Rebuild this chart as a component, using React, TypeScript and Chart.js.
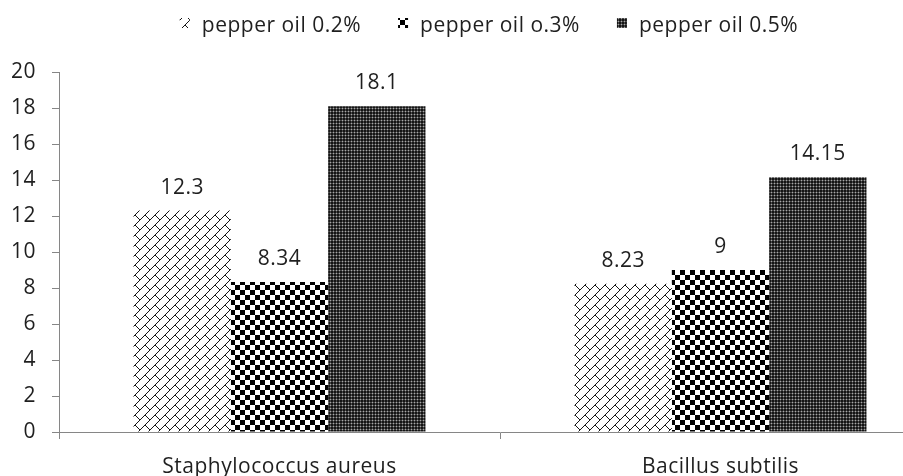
import { useEffect, useRef } from "react";
import { Chart, registerables } from "chart.js";

Chart.register(...registerables);

const categories = ["Staphylococcus aureus", "Bacillus subtilis"];
const seriesNames = ["pepper oil 0.2%", "pepper oil o.3%", "pepper oil 0.5%"];
const oil02 = [12.3, 8.23];
const oil03 = [8.34, 9];
const oil05 = [18.1, 14.15];
const yMin = 0;
const yMax = 20;
const yStep = 2;

const FONT = "'Open Sans', Lato, sans-serif";
const FS = 21;
const TEXT = "#1f1f1f";
const AXIS = "#868686";

function makePattern(kind: string): CanvasPattern | string {
  const c = document.createElement("canvas");
  const size = kind === "dark" ? 3 : 10;
  c.width = size;
  c.height = size;
  const g = c.getContext("2d")!;
  if (kind === "brick") {
    g.fillStyle = "#ffffff";
    g.fillRect(0, 0, size, size);
    g.fillStyle = "#151515";
    for (let y = 0; y < size; y++) {
      g.fillRect(size - 1 - y, y, 1, 1);
      if (y >= 5) g.fillRect(y, y, 1, 1);
    }
  } else if (kind === "checker") {
    g.fillStyle = "#ffffff";
    g.fillRect(0, 0, size, size);
    g.fillStyle = "#000000";
    g.fillRect(0, 0, 5, 5);
    g.fillRect(5, 5, 5, 5);
  } else {
    g.fillStyle = "#151515";
    g.fillRect(0, 0, size, size);
    g.fillStyle = "#484848";
    g.fillRect(0, 0, size, 1);
    g.fillRect(0, 0, 1, size);
    g.fillStyle = "#a8a8a8";
    g.fillRect(0, 0, 1, 1);
  }
  const p = g.createPattern(c, "repeat");
  return p || "#000";
}

export default function App() {
  const ref = useRef<HTMLCanvasElement | null>(null);

  useEffect(() => {
    document.body.style.margin = "0";
    const canvas = ref.current!;
    const fills = [makePattern("brick"), makePattern("checker"), makePattern("dark")];

    const spacingPlugin = {
      id: "spacing",
      beforeLayout(chart: any) {
        chart.ctx.letterSpacing = "0.5px";
      },
      beforeDraw(chart: any) {
        chart.ctx.letterSpacing = "0.5px";
      },
    };

    const valueLabelPlugin = {
      id: "valueLabels",
      afterDatasetsDraw(chart: any) {
        const ctx = chart.ctx;
        ctx.save();
        ctx.font = `${FS}px ${FONT}`;
        ctx.fillStyle = TEXT;
        ctx.textAlign = "center";
        ctx.textBaseline = "alphabetic";
        chart.data.datasets.forEach((ds: any, i: number) => {
          const meta = chart.getDatasetMeta(i);
          meta.data.forEach((el: any, j: number) => {
            ctx.fillText(String(ds.data[j]), el.x, el.y - 17);
          });
        });
        ctx.restore();
      },
    };

    const legendPlugin = {
      id: "customLegend",
      afterDraw(chart: any) {
        const ctx = chart.ctx;
        ctx.save();
        ctx.font = `${FS}px ${FONT}`;
        ctx.textBaseline = "alphabetic";
        ctx.textAlign = "left";
        const box = 10;
        const boxGap = 12;
        const itemGap = 37;
        const widths = chart.data.datasets.map(
          (ds: any) => box + boxGap + ctx.measureText(ds.label).width
        );
        const total = widths.reduce((a: number, b: number) => a + b, 0) + itemGap * (widths.length - 1);
        let x = 489 - total / 2;
        chart.data.datasets.forEach((ds: any, i: number) => {
          ctx.fillStyle = ds.backgroundColor;
          ctx.fillRect(x, 18, box, box);
          ctx.fillStyle = TEXT;
          ctx.fillText(ds.label, x + box + boxGap, 32);
          x += widths[i] + itemGap;
        });
        ctx.restore();
      },
    };

    const chart = new Chart(canvas, {
      type: "bar",
      data: {
        labels: categories,
        datasets: [
          { label: seriesNames[0], data: oil02, backgroundColor: fills[0] as any, borderWidth: 0 },
          { label: seriesNames[1], data: oil03, backgroundColor: fills[1] as any, borderWidth: 0 },
          { label: seriesNames[2], data: oil05, backgroundColor: fills[2] as any, borderWidth: 0 },
        ],
      },
      options: {
        responsive: false,
        animation: false,
        devicePixelRatio: 1,
        layout: { padding: { top: 72, right: 4, left: 0, bottom: 0 } },
        datasets: { bar: { categoryPercentage: 0.662, barPercentage: 1 } },
        plugins: {
          legend: { display: false },
          tooltip: { enabled: false },
        },
        scales: {
          x: {
            grid: {
              offset: true,
              drawOnChartArea: false,
              drawTicks: true,
              tickLength: 7,
              color: AXIS,
            },
            border: { color: AXIS, width: 1 },
            ticks: { font: { family: FONT, size: FS }, color: TEXT, padding: 15 },
            afterFit(scale: any) {
              scale.height = 44;
            },
          },
          y: {
            min: yMin,
            max: yMax,
            ticks: { stepSize: yStep, font: { family: FONT, size: FS }, color: TEXT, padding: 16 },
            grid: {
              drawOnChartArea: false,
              drawTicks: true,
              tickLength: 7,
              color: AXIS,
            },
            border: { color: AXIS, width: 1 },
            afterFit(scale: any) {
              scale.width = 59;
            },
          },
        },
      },
      plugins: [spacingPlugin, valueLabelPlugin, legendPlugin],
    });
    return () => chart.destroy();
  }, []);

  return (
    <div style={{ width: 903, height: 476, overflow: "hidden", background: "#fff" }}>
      <canvas ref={ref} width={945} height={476} style={{ display: "block" }} />
    </div>
  );
}
